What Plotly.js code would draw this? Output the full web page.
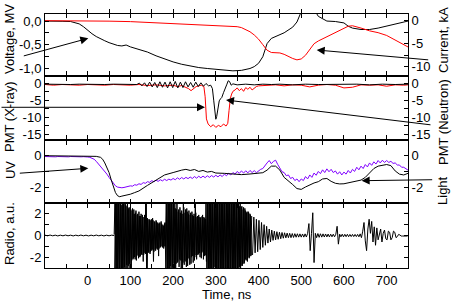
<!DOCTYPE html>
<html>
<head>
<meta charset="utf-8">
<script src="https://cdn.plot.ly/plotly-3.0.1.min.js"></script>
<style>html,body{margin:0;padding:0;background:#fff;}#chart{width:454px;height:303px;}</style>
</head>
<body>
<div id="chart"></div>
<script>
// ---- Panel 1: Voltage (MV, black, left) and Current (kA, red, right)
var tVolt = [-100,-80,-60,-40,-30,-20,-10,0,10,20,30,40,50,60,70,80,90,100,110,120,140,160,180,200,220,240,260,280,300,320,340,360,380,390,400,410,420,430,440,460,480,490,500,510,520,530,540,550,560,580,600,610,620,640,660,680,700,720,740,750];
var voltage = [0.0,0.005,-0.005,-0.01,-0.03,-0.06,-0.12,-0.2,-0.27,-0.33,-0.38,-0.42,-0.46,-0.49,-0.52,-0.53,-0.51,-0.55,-0.58,-0.6,-0.66,-0.74,-0.81,-0.87,-0.92,-0.96,-0.99,-1.01,-1.03,-1.05,-1.06,-1.05,-1.01,-0.97,-0.9,-0.76,-0.48,-0.37,-0.33,-0.25,-0.13,-0.02,0.2,0.25,0.25,0.25,0.1,0.05,0.0,-0.01,-0.04,-0.11,-0.15,-0.18,-0.18,-0.15,-0.11,-0.06,-0.02,0.0];
var tCurr = [-100,-50,0,50,100,150,200,250,300,330,350,360,370,380,390,400,410,420,430,440,450,460,470,480,490,500,510,520,530,540,560,580,600,610,620,630,640,660,680,700,720,740,750];
var current = [0.0,0.0,-0.05,-0.1,-0.2,-0.4,-0.6,-0.85,-1.1,-1.25,-1.3,-1.5,-1.9,-2.4,-3.1,-4.0,-5.2,-6.4,-6.9,-7.0,-7.0,-7.3,-7.8,-8.2,-8.5,-8.3,-7.5,-6.2,-5.0,-4.4,-3.5,-2.6,-1.6,-1.2,-1.1,-1.3,-1.6,-2.2,-2.6,-3.2,-4.2,-5.3,-5.7];

// ---- Panel 2: PMT X-ray (red, left) and PMT Neutron (black, right)
var tXray = [-100,-80,-60,-40,-20,0,20,40,60,80,100,120,140,160,180,200,210,220,230,236,242,248,254,260,266,272,275,278,282,288,294,300,306,312,318,324,328,331,334,337,340,345,350,355,360,365,370,375,380,385,390,395,400,420,440,460,480,500,520,540,560,580,600,620,640,660,680,700,720,740,750];
var xray = [-0.4,-0.6,-0.4,-0.5,-0.6,-0.4,-0.5,-0.6,-0.4,-0.5,-0.6,-0.4,-0.7,-0.5,-0.8,-0.6,-1.0,-0.7,-1.2,-1.6,-2.2,-1.5,-1.0,-0.8,-0.6,-1.0,-4.0,-10.5,-12.0,-12.8,-12.2,-13.0,-12.4,-12.8,-12.0,-12.6,-11.8,-8.0,-4.5,-3.2,-2.4,-2.0,-1.4,-2.2,-1.6,-2.4,-1.3,-1.8,-1.2,-2.0,-1.4,-1.0,-0.8,-0.6,-0.5,-0.8,-0.5,-0.6,-1.1,-0.6,-0.4,-0.6,-1.4,-1.2,-0.5,-0.6,-0.5,-0.9,-0.5,-0.6,-0.5];
var tNeut = [-100,-80,-60,-40,-20,0,20,40,60,80,100,115,121,127,133,139,145,151,157,163,169,175,181,187,193,199,205,211,217,223,229,235,241,247,253,259,265,271,277,283,288,292,295,298,300,302,305,308,311,314,318,322,326,329,332,336,340,350,370,390,410,430,450,480,510,540,570,600,630,660,690,720,750];
var neutron = [-0.3,-0.4,-0.3,-0.4,-0.3,-0.4,-0.3,-0.4,-0.3,-0.4,-0.3,-0.4,0.0,-0.8,0.1,-1.0,0.3,-1.1,0.2,-1.3,0.4,-1.2,0.3,-1.4,0.4,-1.3,0.5,-1.4,0.3,-1.3,0.4,-1.1,0.2,-1.2,0.3,-1.0,0.1,-0.9,-0.1,-0.8,-0.6,-1.6,-5.0,-9.0,-10.6,-9.8,-7.0,-5.2,-4.6,-4.2,-2.8,-1.2,-0.3,0.7,0.5,-0.6,-0.2,-0.5,-0.3,-0.5,-0.3,-0.4,-0.3,-0.5,-0.3,-0.4,-0.3,-0.4,-0.3,-0.5,-0.3,-0.4,-0.3];

// ---- Panel 3: UV (purple, left, sampled every 5 ns from -100) and Light (black, right)
var uvStart = -100, uvStep = 5;
var uv = [
-0.05,-0.06,-0.04,-0.06,-0.05,-0.07,-0.05,-0.06,-0.04,-0.06,
-0.05,-0.07,-0.05,-0.06,-0.04,-0.06,-0.05,-0.07,-0.06,-0.05,
-0.08,-0.1,-0.15,-0.22,-0.35,-0.5,-0.65,-0.8,-0.98,-1.15,
-1.35,-1.55,-1.75,-1.88,-1.96,-2.0,-2.0,-1.98,-1.95,-1.94,
-1.88,-1.9,-1.81,-1.84,-1.75,-1.79,-1.68,-1.72,-1.62,-1.66,
-1.56,-1.62,-1.53,-1.6,-1.5,-1.57,-1.47,-1.55,-1.46,-1.52,
-1.42,-1.5,-1.38,-1.47,-1.36,-1.45,-1.35,-1.43,-1.33,-1.42,
-1.3,-1.4,-1.28,-1.38,-1.27,-1.37,-1.25,-1.35,-1.24,-1.33,
-1.22,-1.32,-1.2,-1.3,-1.15,-1.25,-1.1,-1.2,-1.05,-1.15,
-0.98,-1.1,-0.95,-1.08,-0.94,-1.07,-0.92,-1.05,-0.93,-1.06,
-0.95,-0.85,-0.8,-0.6,-0.45,-0.3,-0.5,-0.35,-0.28,-0.55,
-0.8,-1.0,-1.05,-1.25,-1.2,-1.42,-1.35,-1.55,-1.45,-1.62,
-1.45,-1.55,-1.3,-1.45,-1.2,-1.35,-1.08,-1.22,-0.98,-1.12,
-0.88,-1.05,-0.82,-1.0,-0.85,-1.05,-0.95,-1.15,-1.0,-1.2,
-1.02,-1.15,-0.92,-1.08,-0.85,-0.98,-0.72,-0.88,-0.65,-0.8,
-0.55,-0.7,-0.45,-0.6,-0.38,-0.52,-0.3,-0.45,-0.28,-0.42,
-0.3,-0.42,-0.35,-0.48,-0.45,-0.58,-0.58,-0.72,-0.72,-0.82,
-0.9];
var tLight = [-100,-50,0,20,30,35,40,45,50,55,60,65,70,75,80,90,100,110,120,140,160,180,200,210,220,230,240,250,260,270,280,290,300,320,340,360,380,400,410,420,430,440,450,460,470,480,490,500,510,520,530,540,550,560,570,580,590,600,610,620,630,640,650,660,670,680,690,700,710,720,730,740,750];
var light = [0.0,0.0,-0.02,-0.04,-0.1,-0.22,-0.45,-0.72,-1.05,-1.5,-1.95,-2.3,-2.5,-2.56,-2.52,-2.47,-2.4,-2.3,-2.2,-1.85,-1.5,-1.2,-1.05,-0.95,-0.9,-0.85,-0.92,-0.86,-0.98,-0.92,-1.02,-0.98,-1.08,-1.1,-1.15,-1.18,-1.14,-1.1,-1.06,-0.9,-0.65,-0.65,-0.9,-1.35,-1.55,-1.8,-2.05,-2.1,-1.95,-1.82,-1.7,-1.62,-1.45,-1.42,-1.6,-1.72,-1.76,-1.75,-1.7,-1.65,-1.58,-1.52,-1.35,-1.1,-0.8,-0.65,-0.6,-0.55,-0.62,-0.95,-1.15,-1.2,-1.1];

// ---- Panel 4: Radio (a.u.), record pieces with regular sampling
var radioPreStart = -100, radioPreStep = 6;
var radioPre = [0.03,-0.03,0.04,-0.03,0.03,-0.04,0.03,-0.03,0.04,-0.03,0.03,-0.04,0.03,-0.03,0.04,-0.03,0.03,-0.04,0.03,-0.03,0.04,-0.03,0.03,-0.04,0.03,-0.03,0.03,0.0];
var radioBurstStart = 62, radioBurstStep = 2;
var radioBurst = [
0.1,3.5,-3.5,3.2,-3.5,3.5,-3.0,3.5,-3.5,2.8,
-3.5,3.5,-2.9,3.2,-3.5,2.7,-3.5,2.5,-2.6,2.6,
-3.5,2.3,-2.2,2.4,-2.0,2.1,-2.3,1.9,-1.8,2.2,
-2.0,1.8,-1.7,1.9,-2.4,1.7,-1.6,3.5,-3.5,1.6,
-1.5,1.5,-1.7,1.4,-1.4,1.6,-2.4,1.3,-1.3,1.4,
-1.2,1.2,-1.9,1.1,-1.1,1.3,-1.0,1.0,-1.2,1.1,
-1.0,3.5,-3.0,3.5,-3.5,3.3,-2.8,3.5,-3.1,2.9,
-2.6,3.5,-3.0,2.4,-2.5,2.2,-2.9,2.6,-2.3,2.3,
-3.5,3.5,-2.7,2.1,-2.4,2.5,-2.8,2.0,-2.2,1.9,
-2.6,2.2,-1.9,1.8,-2.3,3.5,-2.0,1.7,-1.8,1.9,
-1.6,1.6,-2.1,1.8,-1.5,1.7,-1.9,1.5,-2.4,3.5,
-3.5,3.5,-3.2,3.5,-3.5,3.0,-3.5,3.5,-2.9,3.5,
-3.5,3.2,-3.5,3.5,-3.0,3.5,-3.5,2.9,-3.5,3.5,
-3.5,3.5,-3.1,3.5,-3.5,3.5,-3.5,3.1,-3.5,3.5,
-3.0,3.5,-3.5,3.3,-3.5,2.8,-3.5,2.7,-3.0,2.6,
-2.8,2.4,-2.6,2.5,-2.2,2.1,-2.4,2.2,-2.1,2.0,
-1.9,1.8];
var radioBurst2Start = 63, radioBurst2Step = 2;
var radioBurst2 = [
-3.5,3.5,-3.2,3.5,-3.5,3.1,-3.5,3.5,-3.0,3.5,
-3.2,2.9,-3.5,2.8,-2.7,3.5,-2.8,2.6,-3.5,2.4,
-2.3,2.5,-2.1,2.0,-2.2,2.3,-1.9,2.0,-2.1,1.8,
-1.9,2.0,-1.8,1.7,-1.8,1.9,-1.7,3.5,-3.5,1.5,
-1.6,1.4,-1.5,1.5,-1.3,1.4,-1.5,1.2,-1.4,1.3,
-1.3,1.1,-1.2,1.2,-1.0,1.1,-1.1,0.9,-1.0,1.2,
-3.5,3.5,-3.4,3.1,-3.5,3.5,-3.2,3.0,-2.9,3.5,
-3.5,2.5,-2.6,3.5,-2.4,2.4,-2.2,2.1,-3.5,2.0,
-2.5,2.6,-2.3,2.4,-2.9,2.2,-2.1,2.3,-2.7,2.1,
-2.0,1.9,-2.5,2.0,-1.8,2.1,-2.2,1.8,-1.7,1.7,
-2.0,1.7,-1.6,1.9,-2.2,1.6,-1.8,3.5,-3.5,3.5,
-3.2,3.5,-3.5,3.3,-3.5,3.5,-3.1,3.5,-3.5,3.2,
-3.0,3.5,-3.5,3.5,-3.5,3.0,-3.5,3.5,-3.2,3.5,
-3.5,3.2,-3.5,3.5,-3.0,3.5,-3.5,3.5,-3.3,3.5,
-3.5,3.1,-3.2,3.5,-3.5,3.0,-2.9,3.1,-2.8,2.7,
-2.6,2.6,-2.5,2.3,-2.3,2.2,-2.0,2.1,-2.0,1.9,
-1.8];
var radioTailStart = 386, radioTailStep = 3;
var radioTail = [
-1.8,1.7,-1.6,1.5,-1.5,1.4,-1.3,1.2,-1.1,1.0,
-0.9,0.85,-0.7,0.6,-0.6,0.5,-0.45,0.4,-0.4,0.35,
-0.35,0.3,-0.3,0.28,-0.25,0.25,-0.22,0.22,-0.2,0.2,
-0.2,0.18,-0.18,0.17,-0.16,0.16,-0.15,0.15,-0.15,0.14,
-0.15,0.15,-0.14,0.2,1.1,-1.4,0.2,2.1,-2.5,0.2,
-0.2,0.18,-0.17,0.16,-0.15,0.15,-0.14,0.14,-0.13,0.13,
-0.13,0.12,-0.12,0.12,-0.12,0.12,0.85,-0.8,0.12,-0.12,
0.12,-0.12,0.11,-0.11,0.11,-0.11,0.1,-0.1,0.1,-0.1,
0.1,-0.1,0.1,-0.12,0.15,-0.2,0.4,1.2,-0.5,-1.4,
0.6,1.5,0.2,1.3,-0.6,0.8,-0.9,0.7,-0.4,0.3,
0.6,-0.6,0.2,0.5,-0.3,-0.4,0.4,0.3,-0.4,-0.2,
0.4,0.3,-0.2,-0.1,0.1,0.05,-0.05,-0.05,-0.05,-0.05,
-0.05,-0.05];

// ---- Tick labels
var xTickVals = [-50,0,50,100,150,200,250,300,350,400,450,500,550,600,650,700];
var xTickText = ['','0','','100','','200','','300','','400','','500','','600','','700'];
var voltTickVals = [-1,-0.75,-0.5,-0.25,0];
var voltTickText = ['-1,0','','-0,5','','0,0'];
var currTickVals = [-10,-7.5,-5,-2.5,0];
var currTickText = ['-10','','-5','','0'];
var pmtTickVals = [-15,-12.5,-10,-7.5,-5,-2.5,0];
var pmtTickText = ['-15','','-10','','-5','','0'];
var uvTickVals = [-2,-1,0];
var uvTickText = ['-2','','0'];
var radioTickVals = [-2,-1,0,1,2];
var radioTickText = ['-2','','0','','2'];

var BLACK = '#000000', RED = '#ff0000', PURPLE = '#8000ff';
var FONT = 'Liberation Sans, Arial, sans-serif';

var traces = [
  {x: tVolt, y: voltage, xaxis: 'x4', yaxis: 'y6', type: 'scatter', mode: 'lines', line: {color: BLACK, width: 1}},
  {x: tCurr, y: current, xaxis: 'x4', yaxis: 'y7', type: 'scatter', mode: 'lines', line: {color: RED, width: 1}},
  {x: tXray, y: xray, xaxis: 'x3', yaxis: 'y4', type: 'scatter', mode: 'lines', line: {color: RED, width: 1}},
  {x: tNeut, y: neutron, xaxis: 'x3', yaxis: 'y5', type: 'scatter', mode: 'lines', line: {color: BLACK, width: 1}},
  {x0: uvStart, dx: uvStep, y: uv, xaxis: 'x2', yaxis: 'y2', type: 'scatter', mode: 'lines', line: {color: PURPLE, width: 1}},
  {x: tLight, y: light, xaxis: 'x2', yaxis: 'y3', type: 'scatter', mode: 'lines', line: {color: BLACK, width: 1}},
  {x0: radioPreStart, dx: radioPreStep, y: radioPre, xaxis: 'x', yaxis: 'y', type: 'scatter', mode: 'lines', line: {color: BLACK, width: 1}},
  {x0: radioBurstStart, dx: radioBurstStep, y: radioBurst, xaxis: 'x', yaxis: 'y', type: 'scatter', mode: 'lines', line: {color: BLACK, width: 1}},
  {x0: radioBurst2Start, dx: radioBurst2Step, y: radioBurst2, xaxis: 'x', yaxis: 'y', type: 'scatter', mode: 'lines', line: {color: BLACK, width: 1}},
  {x0: radioTailStart, dx: radioTailStep, y: radioTail, xaxis: 'x', yaxis: 'y', type: 'scatter', mode: 'lines', line: {color: BLACK, width: 1}}
];

function xAx(anchor, labels) {
  return {anchor: anchor, range: [-100, 750], tickmode: 'array', tickvals: xTickVals, ticktext: xTickText,
    ticks: 'inside', ticklen: 4, tickcolor: BLACK, showline: true, linecolor: BLACK, linewidth: 1,
    mirror: 'allticks', showgrid: false, zeroline: false, showticklabels: labels,
    tickfont: {family: FONT, size: 13, color: BLACK}};
}
function yAx(domain, range, vals, text, side, extra) {
  var a = {domain: domain, range: range, tickmode: 'array', tickvals: vals, ticktext: text,
    ticks: 'inside', ticklen: 4, tickcolor: BLACK, showline: true, linecolor: BLACK, linewidth: 1,
    showgrid: false, zeroline: false, side: side, tickfont: {family: FONT, size: 13, color: BLACK}};
  for (var k in extra) a[k] = extra[k];
  return a;
}
var d1 = [0.7559, 1], d2 = [0.5039, 0.7559], d3 = [0.2559, 0.5039], d4 = [0, 0.2559];

var layout = {
  width: 454, height: 303,
  margin: {l: 45, r: 46, t: 14, b: 35, pad: 0},
  paper_bgcolor: '#fff', plot_bgcolor: '#fff',
  showlegend: false,
  font: {family: FONT, size: 13, color: BLACK},
  xaxis: xAx('y', true),
  xaxis2: Object.assign(xAx('y2', false), {matches: 'x'}),
  xaxis3: Object.assign(xAx('y4', false), {matches: 'x'}),
  xaxis4: Object.assign(xAx('y6', false), {matches: 'x'}),
  yaxis: yAx(d4, [-3, 3], radioTickVals, radioTickText, 'left', {anchor: 'x', mirror: 'allticks'}),
  yaxis2: yAx(d3, [-2.95, 0.98], uvTickVals, uvTickText, 'left', {anchor: 'x2'}),
  yaxis3: yAx(d3, [-2.95, 0.98], uvTickVals, uvTickText, 'right', {anchor: 'x2', overlaying: 'y2'}),
  yaxis4: yAx(d2, [-16.7, 2.1], pmtTickVals, pmtTickText, 'left', {anchor: 'x3'}),
  yaxis5: yAx(d2, [-16.7, 2.1], pmtTickVals, pmtTickText, 'right', {anchor: 'x3', overlaying: 'y4'}),
  yaxis6: yAx(d1, [-1.17, 0.15], voltTickVals, voltTickText, 'left', {anchor: 'x4'}),
  yaxis7: yAx(d1, [-12, 1.45], currTickVals, currTickText, 'right', {anchor: 'x4', overlaying: 'y6'}),
  annotations: []
};

var titles = [
  {text: 'Voltage, MV', x: -0.0964, y: 0.9016},
  {text: 'PMT (X-ray)', x: -0.0964, y: 0.5945},
  {text: 'UV', x: -0.0964, y: 0.3858},
  {text: 'Radio, a.u.', x: -0.0964, y: 0.1339},
  {text: 'Current, kA', x: 1.0964, y: 0.8976},
  {text: 'PMT (Neutron)', x: 1.0964, y: 0.5748},
  {text: 'Light', x: 1.0964, y: 0.3071}
];
titles.forEach(function (t) {
  layout.annotations.push({text: t.text, xref: 'paper', yref: 'paper', x: t.x, y: t.y,
    xanchor: 'center', yanchor: 'middle', textangle: -90, showarrow: false,
    font: {family: FONT, size: 13, color: BLACK}});
});
layout.annotations.push({text: 'Time, ns', xref: 'paper', yref: 'paper', x: 0.5014, y: -0.103,
  xanchor: 'center', yanchor: 'middle', showarrow: false, font: {family: FONT, size: 13, color: BLACK}});

var arrows = [
  {x: 0.1193, y: 0.9043, ax: -66, ay: 18},
  {x: 0.7485, y: 0.8583, ax: 113, ay: 10},
  {x: 0.4408, y: 0.6327, ax: -205, ay: 0},
  {x: 0.4986, y: 0.6614, ax: 206, ay: 25},
  {x: 0.1193, y: 0.3925, ax: -70, ay: 5},
  {x: 0.8724, y: 0.3437, ax: 72, ay: -1}
];
arrows.forEach(function (a) {
  layout.annotations.push({text: '', xref: 'paper', yref: 'paper', x: a.x, y: a.y, ax: a.ax, ay: a.ay,
    showarrow: true, arrowhead: 2, arrowsize: 1.6, arrowwidth: 1, arrowcolor: BLACK, standoff: 0});
});

Plotly.newPlot('chart', traces, layout, {staticPlot: true, displayModeBar: false});
</script>
</body>
</html>
